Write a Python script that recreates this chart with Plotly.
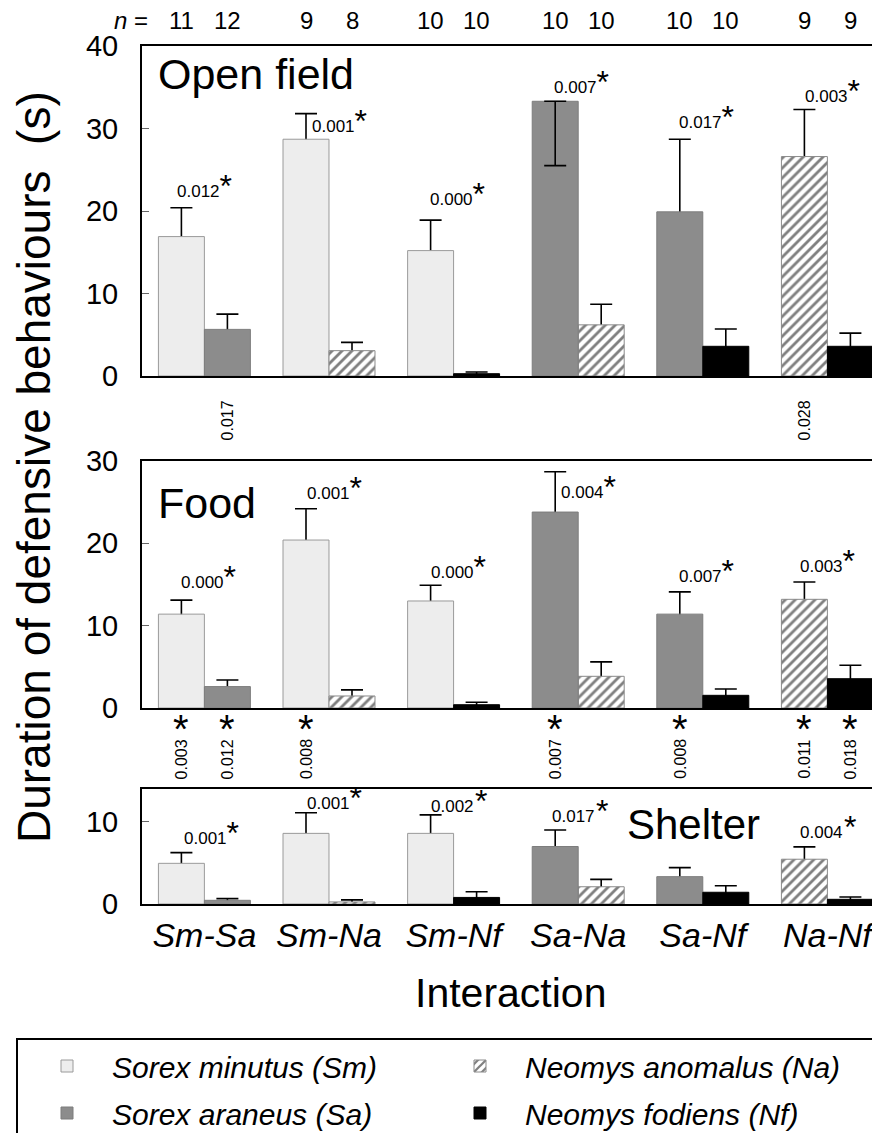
import plotly.graph_objects as go

# The page body has an 8px margin, so the figure is 8px smaller than the window
PAGE_OFF = 8
W, H = 880 - PAGE_OFF, 1133 - PAGE_OFF
FONT = "Liberation Sans, Arial, Helvetica, sans-serif"

# ---------------- data ----------------
groups = ["Sm-Sa", "Sm-Na", "Sm-Nf", "Sa-Na", "Sa-Nf", "Na-Nf"]
left_species = ["Sm", "Sm", "Sm", "Sa", "Sa", "Na"]
right_species = ["Sa", "Na", "Nf", "Na", "Nf", "Nf"]
n_left = [11, 9, 10, 10, 10, 9]
n_right = [12, 8, 10, 10, 10, 9]

species_names = {
    "Sm": "Sorex minutus (Sm)",
    "Sa": "Sorex araneus (Sa)",
    "Na": "Neomys anomalus (Na)",
    "Nf": "Neomys fodiens (Nf)",
}

# Open field
open_left = [16.9, 28.7, 15.2, 33.3, 19.9, 26.6]
open_left_se_up = [3.5, 3.1, 3.7, 0.0, 8.8, 5.7]
open_left_se_down = [0.0, 0.0, 0.0, 7.8, 0.0, 0.0]
open_right = [5.65, 3.07, 0.28, 6.2, 3.6, 3.6]
open_right_se = [1.85, 1.0, 0.2, 2.5, 2.1, 1.6]
open_p = ["0.012", "0.001", "0.000", "0.007", "0.017", "0.003"]

# Food
food_left = [11.4, 20.4, 13.0, 23.8, 11.4, 13.2]
food_left_se = [1.7, 3.8, 1.9, 4.9, 2.7, 2.1]
food_right = [2.6, 1.46, 0.4, 3.85, 1.54, 3.56]
food_right_se = [0.8, 0.74, 0.3, 1.75, 0.76, 1.64]
food_p = ["0.000", "0.001", "0.000", "0.004", "0.007", "0.003"]

# Shelter
shelter_left = [4.95, 8.6, 8.6, 7.0, 3.33, 5.45]
shelter_left_se = [1.3, 2.5, 2.25, 2.0, 1.1, 1.5]
shelter_right = [0.45, 0.25, 0.8, 2.1, 1.43, 0.57]
shelter_right_se = [0.2, 0.25, 0.7, 0.9, 0.8, 0.28]
shelter_p = ["0.001", "0.001", "0.002", "0.017", None, "0.004"]

# between-context comparisons (rotated labels): (group, side, p)
open_vs_food = [(0, "R", "0.017"), (5, "L", "0.028")]
food_vs_shelter = [(0, "L", "0.003"), (0, "R", "0.012"), (1, "L", "0.008"),
                   (3, "L", "0.007"), (4, "L", "0.008"), (5, "L", "0.011"),
                   (5, "R", "0.018")]

# ---------------- styling ----------------
OFF = 0.1846
BW = 0.369
HIDE = 0.2  # lower end of the SE whisker tucked inside the bar
styles = {
    "Sm": dict(color="#ededed", line=dict(color="#9a9a9a", width=1)),
    "Sa": dict(color="#8c8c8c", line=dict(color="#7d7d7d", width=1)),
    "Na": dict(color="white", line=dict(color="#8a8a8a", width=1),
               pattern=dict(shape="/", fgcolor="black", bgcolor="white",
                            size=7, solidity=0.4)),
    "Nf": dict(color="#000000", line=dict(color="#000000", width=1)),
}


def ppx(px):
    return (px - PAGE_OFF) / W


def ppy(py):
    return 1 - (py - PAGE_OFF) / H


X_RANGE = [(142 - 204.4) / 124.6, (880 - 204.4) / 124.6]
panels = [
    dict(name="Open field", rng=[0, 40], top=46, bot=376,
         L=open_left, Lup=open_left_se_up, Ldn=open_left_se_down,
         R=open_right, Rup=open_right_se, ticks=[0, 10, 20, 30, 40]),
    dict(name="Food", rng=[0, 30], top=461, bot=708,
         L=food_left, Lup=food_left_se, Ldn=[0] * 6,
         R=food_right, Rup=food_right_se, ticks=[0, 10, 20, 30]),
    dict(name="Shelter", rng=[0, 14], top=789, bot=904,
         L=shelter_left, Lup=shelter_left_se, Ldn=[0] * 6,
         R=shelter_right, Rup=shelter_right_se, ticks=[0, 10]),
]

fig = go.Figure()
legend_of = {"Sm": "legend", "Na": "legend", "Sa": "legend2", "Nf": "legend2"}

for k, p in enumerate(panels):
    xa = "x" if k == 0 else f"x{k+1}"
    ya = "y" if k == 0 else f"y{k+1}"
    # error bar carriers drawn underneath the bars (upper SE)
    ex, ey, eu, em = [], [], [], []
    for i in range(6):
        if p["Lup"][i] > 0:
            ex.append(i - OFF); ey.append(p["L"][i]); eu.append(p["Lup"][i])
            em.append(min(HIDE, p["L"][i] * 0.5))
        if p["Rup"][i] > 0:
            ex.append(i + OFF); ey.append(p["R"][i]); eu.append(p["Rup"][i])
            em.append(min(HIDE, p["R"][i] * 0.5))
    fig.add_trace(go.Bar(x=ex, y=ey, width=BW, xaxis=xa, yaxis=ya,
                         marker=dict(color="rgba(0,0,0,0)", line=dict(width=0)),
                         error_y=dict(type="data", symmetric=False, array=eu,
                                      arrayminus=em, color="black",
                                      thickness=1.6, width=11),
                         showlegend=False, hoverinfo="skip"))
    # species bars
    for sp in ["Sm", "Na", "Sa", "Nf"]:
        xs, ys = [], []
        for i in range(6):
            if left_species[i] == sp:
                xs.append(i - OFF); ys.append(p["L"][i])
            if right_species[i] == sp:
                xs.append(i + OFF); ys.append(p["R"][i])
        st = styles[sp]
        marker = dict(color=st["color"], line=st["line"])
        if "pattern" in st:
            marker["pattern"] = st["pattern"]
        fig.add_trace(go.Bar(x=xs, y=ys, width=BW, xaxis=xa, yaxis=ya,
                             name=species_names[sp], marker=marker,
                             legend=legend_of[sp], showlegend=(k == 0),
                             hoverinfo="skip"))
    # downward SE drawn over bars
    dx, dy, dd = [], [], []
    for i in range(6):
        if p["Ldn"][i] > 0:
            dx.append(i - OFF); dy.append(p["L"][i]); dd.append(p["Ldn"][i])
    if dx:
        fig.add_trace(go.Bar(x=dx, y=dy, width=BW, xaxis=xa, yaxis=ya,
                             marker=dict(color="rgba(0,0,0,0)", line=dict(width=0)),
                             error_y=dict(type="data", symmetric=False,
                                          array=[0] * len(dd), arrayminus=dd,
                                          color="black", thickness=1.6, width=11),
                             showlegend=False, hoverinfo="skip"))

# ---------------- axes ----------------
layout_axes = {}
for k, p in enumerate(panels):
    sx = "xaxis" if k == 0 else f"xaxis{k+1}"
    sy = "yaxis" if k == 0 else f"yaxis{k+1}"
    yname = "y" if k == 0 else f"y{k+1}"
    xname = "x" if k == 0 else f"x{k+1}"
    last = (k == len(panels) - 1)
    layout_axes[sx] = dict(
        domain=[ppx(142), 1], range=X_RANGE, anchor=yname,
        showline=True, linecolor="black", linewidth=2, mirror=True,
        ticks="", showgrid=False, zeroline=False,
        tickvals=list(range(6)), ticktext=groups,
        showticklabels=last,
        tickfont=dict(size=34, family=FONT, color="black", style="italic"),
        ticklabelstandoff=0,
    )
    layout_axes[sy] = dict(
        domain=[ppy(p["bot"]), ppy(p["top"])], range=p["rng"], anchor=xname,
        showline=True, linecolor="black", linewidth=2, mirror=False,
        ticks="inside", ticklen=7, tickwidth=1, tickcolor="#666666",
        tickvals=p["ticks"], showgrid=False, zeroline=False,
        tickfont=dict(size=29, family=FONT, color="black"),
        ticklabelstandoff=16,
    )

ann = []


def txt(x, y, text, size, xref="paper", yref="paper", xanchor="center",
        yanchor="middle", angle=0, style="normal"):
    return dict(x=x, y=y, xref=xref, yref=yref, text=text, showarrow=False,
                xanchor=xanchor, yanchor=yanchor, textangle=angle,
                font=dict(size=size, family=FONT, color="black", style=style))


def star(p, space=False, size=32):
    sep = "&#8202;" if space else ""
    return f"{p}{sep}<span style='font-size:{size}px'>*</span>"


# p-value labels in panels (x and y in data units)
open_lab_x = [0.0, 1.084, 2.03, 3.028, 4.03, 5.04]
open_lab_y = [23.0, 30.9, 22.1, 35.6, 31.4, 34.6]
food_lab_x = [0.036, 1.044, 2.043, 3.083, 4.03, 5.0]
food_lab_y = [15.9, 26.7, 17.1, 26.8, 16.7, 17.8]
shelter_lab_x = [0.057, 1.044, 2.04, 3.014, None, 5.005]
shelter_lab_y = [8.6, 12.9, 12.6, 11.3, None, 9.4]
shelter_space = [False, False, True, True, False, True]

for i in range(6):
    ann.append(txt(open_lab_x[i], open_lab_y[i], star(open_p[i]), 17, "x", "y"))
    ann.append(txt(food_lab_x[i], food_lab_y[i], star(food_p[i]), 17, "x2", "y2"))
    if shelter_p[i] is not None:
        ann.append(txt(shelter_lab_x[i], shelter_lab_y[i],
                       star(shelter_p[i], shelter_space[i]), 17, "x3", "y3"))

# rotated between-context labels
for g, side, pv in open_vs_food:
    xv = g - OFF if side == "L" else g + OFF
    ann.append(txt(xv, ppy(420), pv, 16, xref="x", angle=-90))
for g, side, pv in food_vs_shelter:
    xv = g - OFF if side == "L" else g + OFF
    ann.append(txt(xv, ppy(759), pv, 16, xref="x2", angle=-90))
    ann.append(txt(xv, ppy(729), "*", 40, xref="x2"))

# sample sizes
ann.append(txt(ppx(150), ppy(21), "<i>n</i> =", 24, xanchor="right"))
for i in range(6):
    for xv, nv in [(i - OFF, n_left[i]), (i + OFF, n_right[i])]:
        ann.append(txt(xv, ppy(21), str(nv), 24, xref="x"))

# panel titles
ann.append(txt(ppx(156), ppy(74), "Open field", 43, xanchor="left"))
ann.append(txt(ppx(156), ppy(503), "Food", 43, xanchor="left"))
ann.append(txt(ppx(693), ppy(824), "Shelter", 42))

# axis titles
ann.append(txt(ppx(34), ppy(467), "Duration of defensive behaviours&nbsp; (s)", 46,
               angle=-90))
ann.append(txt(ppx(510), ppy(993), "Interaction", 41))

legend_common = dict(orientation="h", xanchor="left", yanchor="middle",
                     entrywidth=318, entrywidthmode="pixels", itemwidth=80,
                     bgcolor="rgba(0,0,0,0)", borderwidth=0,
                     font=dict(size=30, family=FONT, color="black", style="italic"))

fig.update_layout(
    width=W, height=H,
    margin=dict(l=0, r=0, t=0, b=0, autoexpand=False),
    paper_bgcolor="white", plot_bgcolor="white",
    barmode="overlay",
    annotations=ann,
    legend=dict(x=ppx(22), y=ppy(1066), **legend_common),
    legend2=dict(x=ppx(22), y=ppy(1113), **legend_common),
    shapes=[dict(type="rect", xref="paper", yref="paper",
                 x0=ppx(17), x1=1.05, y0=ppy(1170), y1=ppy(1039),
                 line=dict(color="black", width=2), fillcolor="rgba(0,0,0,0)",
                 layer="below")],
    font=dict(family=FONT, color="black"),
    **layout_axes,
)

fig.write_html("out.html")
